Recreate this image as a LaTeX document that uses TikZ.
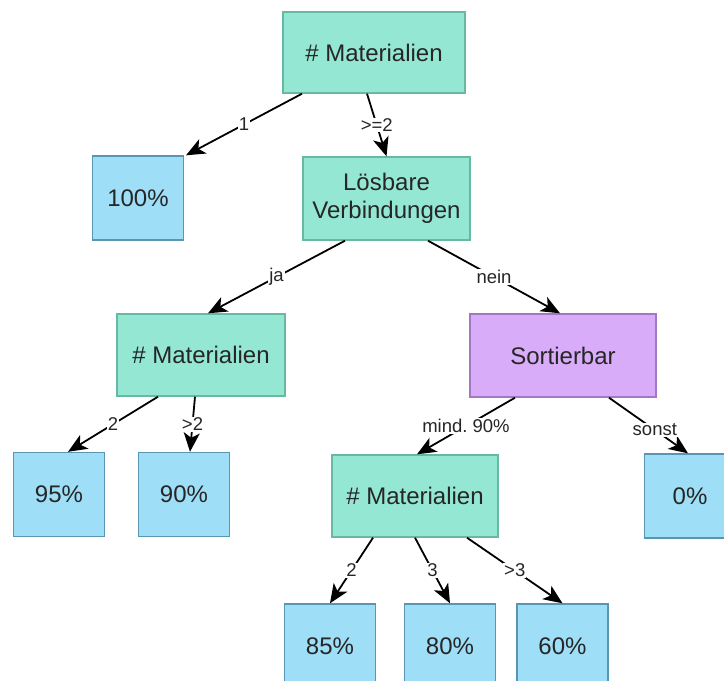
\documentclass[tikz,border=0pt]{standalone}
\usepackage{fontspec}
\setmainfont{Liberation Sans}
\usetikzlibrary{positioning,arrows.meta}
\definecolor{mint}{RGB}{148,232,211}
\definecolor{mintline}{RGB}{104,184,164}
\definecolor{sky}{RGB}{158,222,247}
\definecolor{skyline}{RGB}{88,150,180}
\definecolor{lilac}{RGB}{216,172,248}
\definecolor{lilacline}{RGB}{160,120,196}
\frenchspacing

\begin{document}
\begin{tikzpicture}[x=1pt,y=-1pt,
  box/.style={draw,line width=1.4pt,inner sep=0pt,align=center,text=black!85,
    font=\fontsize{24}{28}\selectfont},
  cond/.style={box,fill=mint,draw=mintline},
  res/.style={box,fill=sky,draw=skyline,minimum width=91,minimum height=84},
  pick/.style={box,fill=lilac,draw=lilacline},
  edge/.style={line width=1.8pt,-{Stealth[length=19pt,width=16pt,inset=5pt]}},
  lbl/.style={fill=white,inner sep=1pt,text=black!85,font=\fontsize{18.5}{20}\selectfont}]
  \useasboundingbox (0,0) rectangle (724,681);
  % nodes
  \node[cond,minimum width=182,minimum height=81] (mat) at (374,52.5) {\# Materialien};
  \node[res] (p100) at (138,198) {100\%};
  \node[cond,minimum width=167,minimum height=83] (loes) at (386.5,198.5) {Lösbare\\Verbindungen};
  \node[cond,minimum width=168,minimum height=82] (matL) at (201,355) {\# Materialien};
  \node[pick,minimum width=186,minimum height=83] (sort) at (563,355.5) {Sortierbar};
  \node[res] (p95) at (59,494.5) {95\%};
  \node[res] (p90) at (184,494.5) {90\%};
  \node[cond,minimum width=166,minimum height=82] (matR) at (415,496) {\# Materialien};
  \node[res] (p0) at (690,496) {0\%};
  \node[res] (p85) at (330,646) {85\%};
  \node[res] (p80) at (450,646) {80\%};
  \node[res] (p60) at (562.5,646) {60\%};
  % edges
  \draw[edge] ([xshift=-72]mat.south) -- node[lbl]{1} ([xshift=48]p100.north);
  \draw[edge] ([xshift=-7]mat.south) -- node[lbl]{>=2} (loes.north);
  \draw[edge] ([xshift=-41.5]loes.south) -- node[lbl]{ja} ([xshift=7]matL.north);
  \draw[edge] ([xshift=41.5]loes.south) -- node[lbl]{nein} ([xshift=-3]sort.north);
  \draw[edge] ([xshift=-43]matL.south) -- node[lbl]{2} ([xshift=9]p95.north);
  \draw[edge] ([xshift=-6]matL.south) -- node[lbl]{>2} ([xshift=6]p90.north);
  \draw[edge] ([xshift=-48]sort.south) -- node[lbl]{mind. 90\%} ([xshift=2]matR.north);
  \draw[edge] ([xshift=46]sort.south) -- node[lbl,pos=.58]{sonst} ([xshift=-2]p0.north);
  \draw[edge] ([xshift=-42]matR.south) -- node[lbl]{2} (p85.north);
  \draw[edge] (matR.south) -- node[lbl]{3} (p80.north);
  \draw[edge] ([xshift=52]matR.south) -- node[lbl]{>3} (p60.north);
\end{tikzpicture}
\end{document}
